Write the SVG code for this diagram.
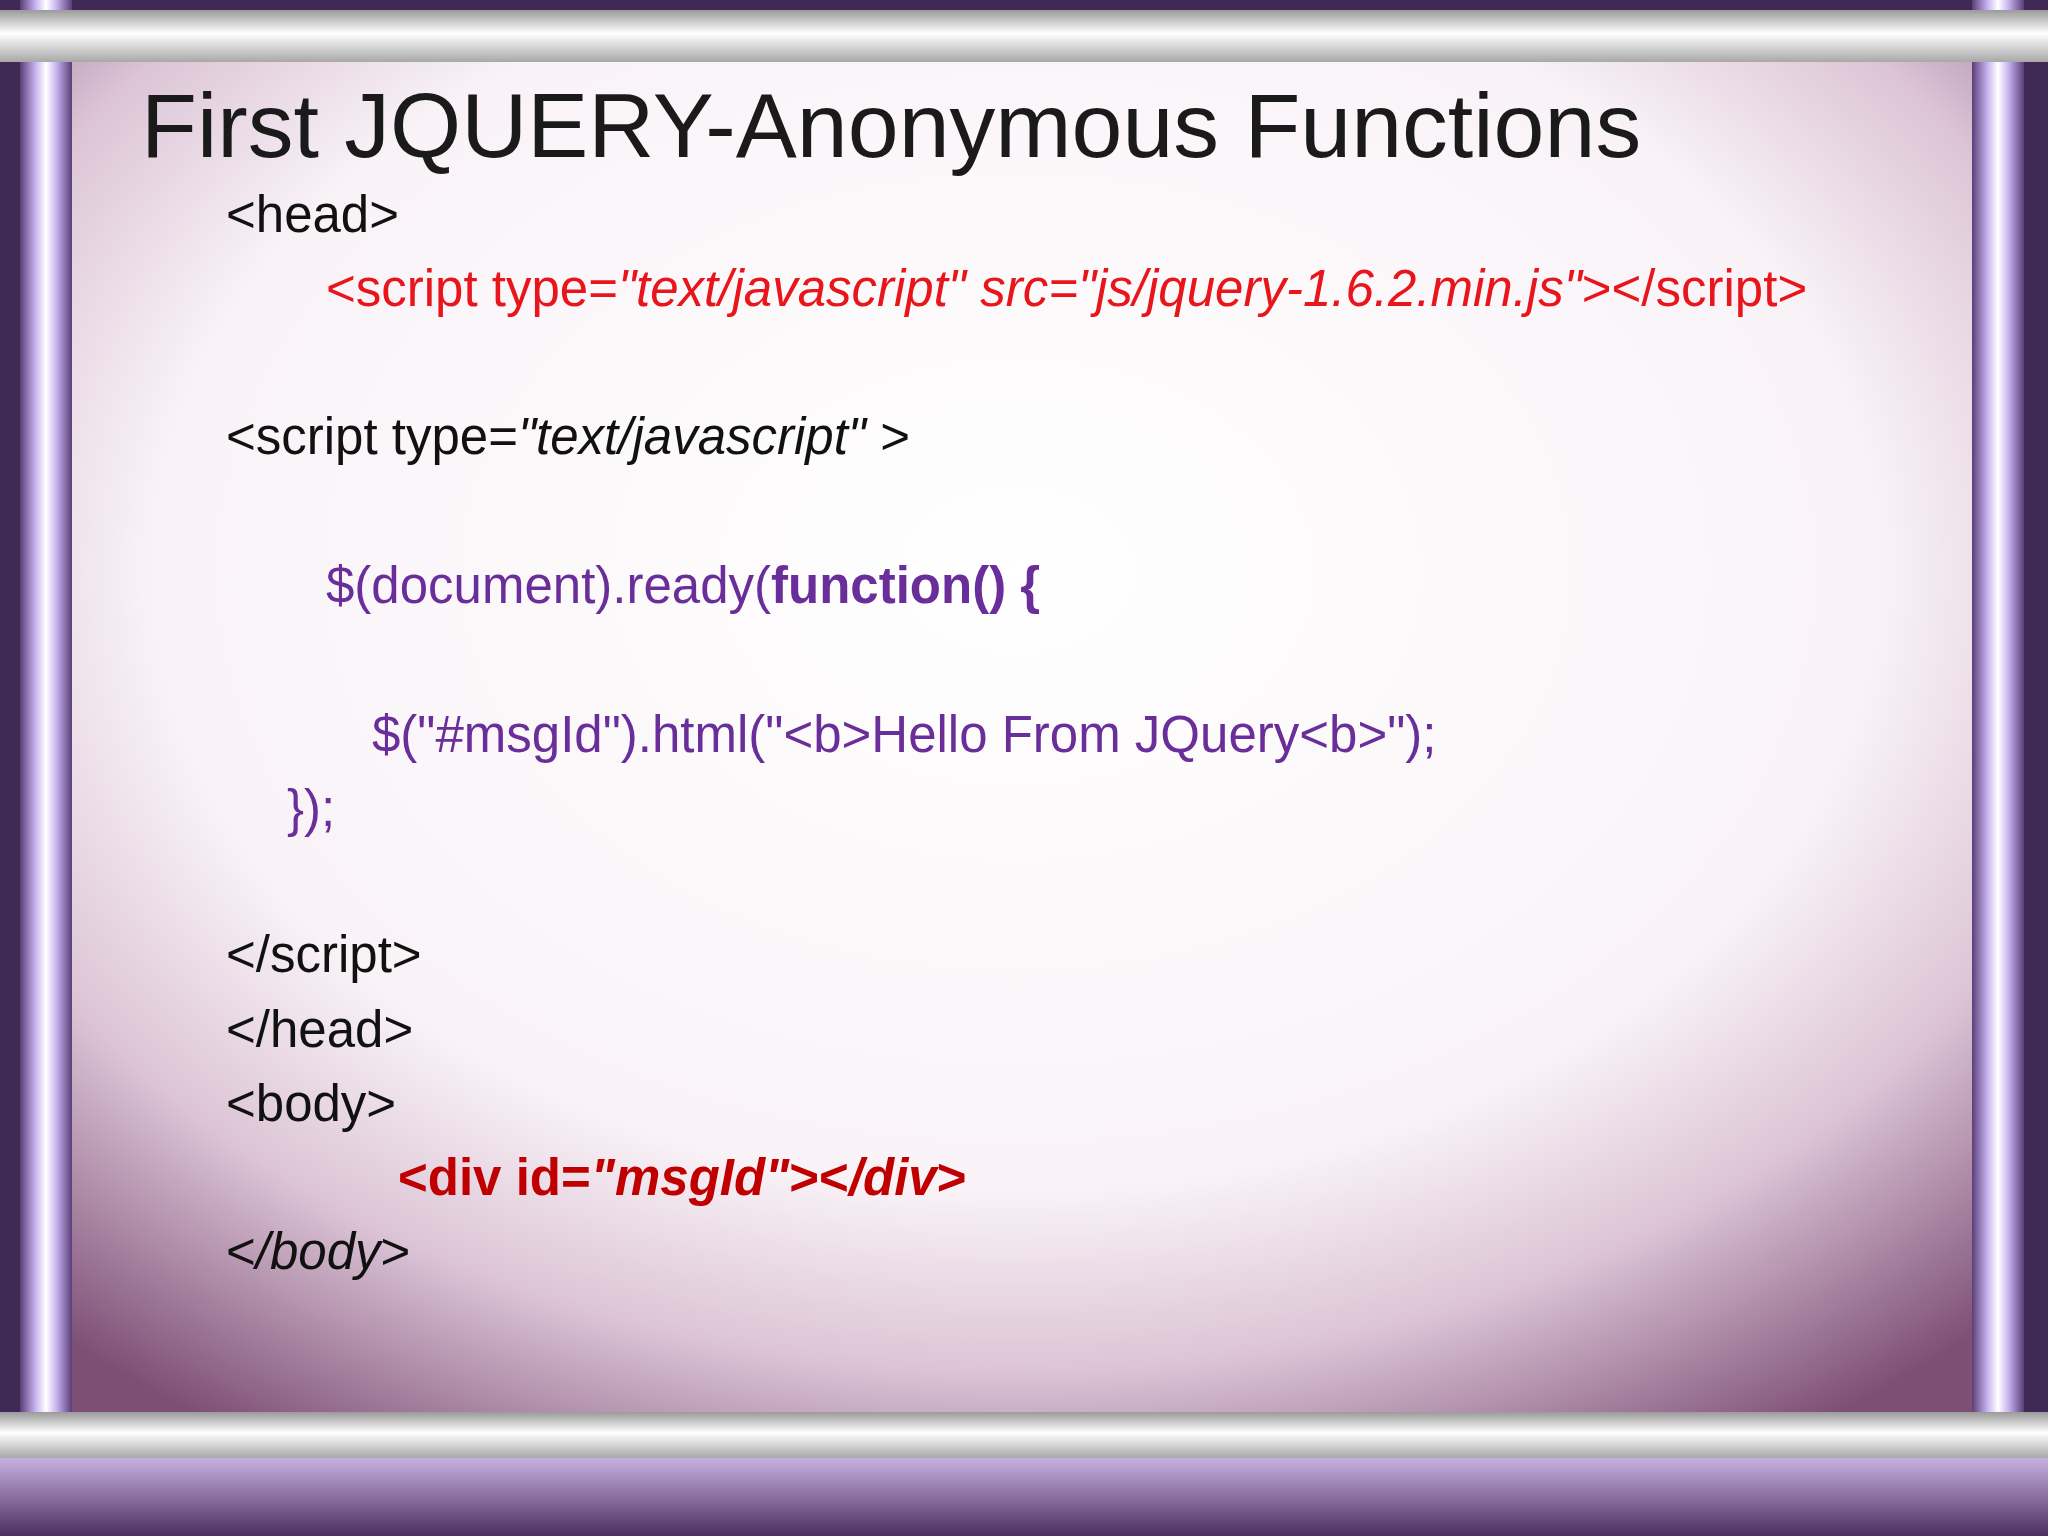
<svg xmlns="http://www.w3.org/2000/svg" width="2048" height="1536" viewBox="0 0 2048 1536">
<defs>
<radialGradient id="panel" cx="0.5" cy="0.38" r="0.75">
<stop offset="0" stop-color="#ffffff"/>
<stop offset="0.6" stop-color="#f9f3f7"/>
<stop offset="0.78" stop-color="#dcc4d6"/>
<stop offset="1" stop-color="#7d4f76"/>
</radialGradient>
<linearGradient id="hbar" x1="0" y1="0" x2="0" y2="1">
<stop offset="0" stop-color="#9a9a9a"/>
<stop offset="0.45" stop-color="#ffffff"/>
<stop offset="1" stop-color="#a8a8a8"/>
</linearGradient>
<linearGradient id="vbar" x1="0" y1="0" x2="1" y2="0">
<stop offset="0" stop-color="#5a3e78"/>
<stop offset="0.3" stop-color="#c8b4f0"/>
<stop offset="0.5" stop-color="#ffffff"/>
<stop offset="0.7" stop-color="#c8b4f0"/>
<stop offset="1" stop-color="#5a3e78"/>
</linearGradient>
<linearGradient id="bot" x1="0" y1="0" x2="0" y2="1">
<stop offset="0" stop-color="#c8b0e0"/>
<stop offset="1" stop-color="#4a3060"/>
</linearGradient>
<style>
.code{font-family:"Liberation Sans",Arial,sans-serif;font-size:51px}
.k{fill:#111}.r{fill:#e8151b}.p{fill:#6a2e9a}.d{fill:#c00000;font-weight:bold}
</style>
</defs>
<rect width="2048" height="1536" fill="#3e2a55"/>
<rect x="60" y="50" width="1912" height="1370" fill="url(#panel)"/>
<rect x="20" y="0" width="52" height="1536" fill="url(#vbar)"/>
<rect x="1972" y="0" width="52" height="1536" fill="url(#vbar)"/>
<rect x="0" y="1458" width="2048" height="78" fill="url(#bot)"/>
<rect x="0" y="10" width="2048" height="52" fill="url(#hbar)"/>
<rect x="0" y="1412" width="2048" height="46" fill="url(#hbar)"/>
<g id="title"><text x="141" y="157" font-family="Liberation Sans,Arial,sans-serif" font-size="91.5" fill="#1a1a1a">First JQUERY-Anonymous Functions</text></g>
<g id="code" class="code">
<text x="226" y="232" class="k">&lt;head&gt;</text>
<text x="326" y="306" class="r">&lt;script type=<tspan font-style="italic">"text/javascript"</tspan> <tspan font-style="italic">src="js/jquery-1.6.2.min.js"</tspan>&gt;&lt;/script&gt;</text>
<text x="226" y="454" class="k">&lt;script type=<tspan font-style="italic">"text/javascript"</tspan> &gt;</text>
<text x="326" y="603" class="p">$(document).ready(<tspan font-weight="bold">function() {</tspan></text>
<text x="372" y="752" class="p">$("#msgId").html("&lt;b&gt;Hello From JQuery&lt;b&gt;");</text>
<text x="287" y="826" class="p">});</text>
<text x="226" y="972" class="k">&lt;/script&gt;</text>
<text x="226" y="1047" class="k">&lt;/head&gt;</text>
<text x="226" y="1121" class="k">&lt;body&gt;</text>
<text x="398" y="1195" class="d">&lt;div id=<tspan font-style="italic">"msgId"</tspan>&gt;&lt;<tspan font-style="italic">/div</tspan>&gt;</text>
<text x="226" y="1269" class="k">&lt;<tspan font-style="italic">/body</tspan>&gt;</text>
</g>
</svg>
